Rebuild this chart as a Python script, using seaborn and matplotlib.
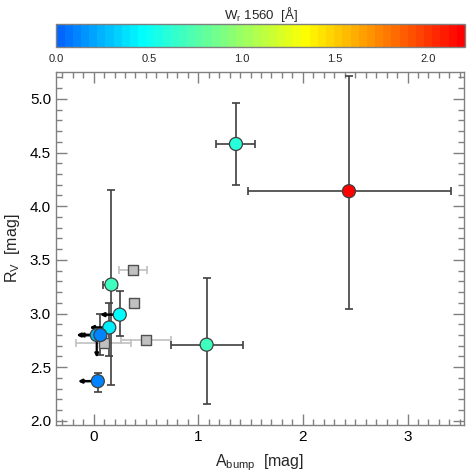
import numpy as np
import matplotlib
matplotlib.use("Agg")
import matplotlib.pyplot as plt
import matplotlib.colors as mcolors
from matplotlib.ticker import MultipleLocator
import seaborn as sns
import pandas as pd

# ---------------- data ----------------
# circles (coloured by W_r 1560)
circ_x = [2.44, 1.36, 1.08, 0.17, 0.25, 0.15, 0.03, 0.065, 0.04]
circ_y = [4.14, 4.58, 2.71, 3.27, 2.99, 2.87, 2.80, 2.80, 2.37]
circ_w = [2.2, 0.60, 0.70, 0.68, 0.48, 0.43, 0.22, 0.11, 0.11]
circ_xlo = [1.48, 1.17, 0.74, 0.09, np.nan, np.nan, np.nan, np.nan, np.nan]
circ_xhi = [3.42, 1.54, 1.43, 0.22, np.nan, np.nan, np.nan, np.nan, np.nan]
circ_ylo = [3.04, 4.20, 2.16, 2.33, 2.79, 2.60, np.nan, 2.61, 2.27]
circ_yhi = [5.21, 4.96, 3.33, 4.15, 3.21, 3.10, np.nan, 3.00, 2.45]
# upper limits in A_bump (arrow tips, pointing left)
circ_xlim = [np.nan, np.nan, np.nan, np.nan, 0.06, -0.04, -0.165, -0.14, -0.15]
# upper limit in R_V (arrow tip, pointing down)
circ_ylim = [np.nan, np.nan, np.nan, np.nan, np.nan, np.nan, 2.59, np.nan, np.nan]

# grey squares (no W_r measurement)
sq_x = [0.38, 0.39, 0.50, 0.10]
sq_y = [3.41, 3.10, 2.75, 2.73]
sq_xlo = [0.24, np.nan, 0.265, -0.165]
sq_xhi = [0.51, np.nan, 0.735, 0.36]

cbar_ticks = [0.0, 0.5, 1.0, 1.5, 2.0]

# ---------------- style ----------------
sns.set_theme(style="ticks")
plt.rcParams["font.family"] = ["Liberation Sans", "DejaVu Sans"]
plt.rcParams["mathtext.fontset"] = "custom"
plt.rcParams["mathtext.rm"] = "Liberation Sans"
plt.rcParams["mathtext.it"] = "Liberation Sans"
plt.rcParams["mathtext.default"] = "regular"

cmap = mcolors.LinearSegmentedColormap.from_list(
    "idl_rainbow",
    [(0.0, (0.0, 0.4, 1.0)),
     (0.205, (0.0, 1.0, 1.0)),
     (0.41, (0.5, 1.0, 0.5)),
     (0.61, (1.0, 1.0, 0.0)),
     (1.0, (1.0, 0.0, 0.0))], N=50)
norm = mcolors.Normalize(vmin=0.0, vmax=2.2)

fig = plt.figure(figsize=(4.74, 4.74), dpi=100)
ax = fig.add_axes([0.118, 0.103, 0.861, 0.745])
cax = fig.add_axes([0.119, 0.901, 0.862, 0.048])

frame_col = "#808080"
err_dark = "#404040"
err_light = "#c0c0c0"

# grey square error bars
for x, y, lo, hi in zip(sq_x, sq_y, sq_xlo, sq_xhi):
    if not np.isnan(lo):
        ax.errorbar([x], [y], xerr=[[x - lo], [hi - x]], fmt="none",
                    ecolor=err_light, elinewidth=1.2, capsize=3, capthick=1.2, zorder=1)

# circle error bars and limits
for i, (x, y) in enumerate(zip(circ_x, circ_y)):
    xerr = None
    yerr = None
    if not np.isnan(circ_xlo[i]):
        xerr = [[x - circ_xlo[i]], [circ_xhi[i] - x]]
    if not np.isnan(circ_ylo[i]):
        yerr = [[y - circ_ylo[i]], [circ_yhi[i] - y]]
    if xerr is not None or yerr is not None:
        ax.errorbar([x], [y], xerr=xerr, yerr=yerr, fmt="none", ecolor=err_dark,
                    elinewidth=1.2, capsize=3, capthick=1.2, zorder=2)
    if not np.isnan(circ_xlim[i]):
        ax.annotate("", xy=(circ_xlim[i], y), xytext=(x, y),
                    arrowprops=dict(arrowstyle="-|>", color="black", lw=1.8,
                                    mutation_scale=5, shrinkA=0, shrinkB=0),
                    zorder=2.5)
    if not np.isnan(circ_ylim[i]):
        ax.annotate("", xy=(x, circ_ylim[i]), xytext=(x, y),
                    arrowprops=dict(arrowstyle="-|>", color="black", lw=1.6,
                                    mutation_scale=5, shrinkA=0, shrinkB=0),
                    zorder=2.5)

df_sq = pd.DataFrame({"A": sq_x, "R": sq_y})
sns.scatterplot(data=df_sq, x="A", y="R", marker="s", s=62, color="#c0c0c0",
                edgecolor="#505050", linewidth=1.0, ax=ax, zorder=3, legend=False)

df_c = pd.DataFrame({"A": circ_x, "R": circ_y, "W": circ_w})
sns.scatterplot(data=df_c, x="A", y="R", hue="W", palette=cmap, hue_norm=norm,
                s=88, edgecolor="#404040", linewidth=0.9, ax=ax, zorder=4, legend=False)

ax.set_xlim(-0.36, 3.54)
ax.set_ylim(1.96, 5.25)
ax.xaxis.set_major_locator(MultipleLocator(1))
ax.xaxis.set_minor_locator(MultipleLocator(0.1))
ax.yaxis.set_major_locator(MultipleLocator(0.5))
ax.yaxis.set_minor_locator(MultipleLocator(0.1))
ax.yaxis.set_major_formatter(matplotlib.ticker.FormatStrFormatter("%.1f"))
ax.tick_params(which="both", direction="in", top=True, right=True, color=frame_col,
               labelsize=11, labelcolor="black")
ax.tick_params(which="major", length=8, width=1)
ax.tick_params(which="minor", length=4, width=1)
for s in ax.spines.values():
    s.set_color(frame_col)
    s.set_linewidth(1)
ax.set_xlabel(r"A$_{bump}$  [mag]", fontsize=11.5, labelpad=6)
ax.set_ylabel(r"R$_V$  [mag]", fontsize=11.5, labelpad=6)

# colorbar
sm = matplotlib.cm.ScalarMappable(norm=norm, cmap=cmap)
cb = fig.colorbar(sm, cax=cax, orientation="horizontal", ticks=cbar_ticks)
cb.ax.tick_params(length=0, labelsize=8, pad=5)
cb.ax.xaxis.set_major_formatter(matplotlib.ticker.FormatStrFormatter("%.1f"))
cb.outline.set_edgecolor(frame_col)
cb.outline.set_linewidth(1)
cb.ax.set_title(r"W$_r$ 1560  [Å]", fontsize=9.5, pad=3)

fig.savefig("out.png", dpi=100)
